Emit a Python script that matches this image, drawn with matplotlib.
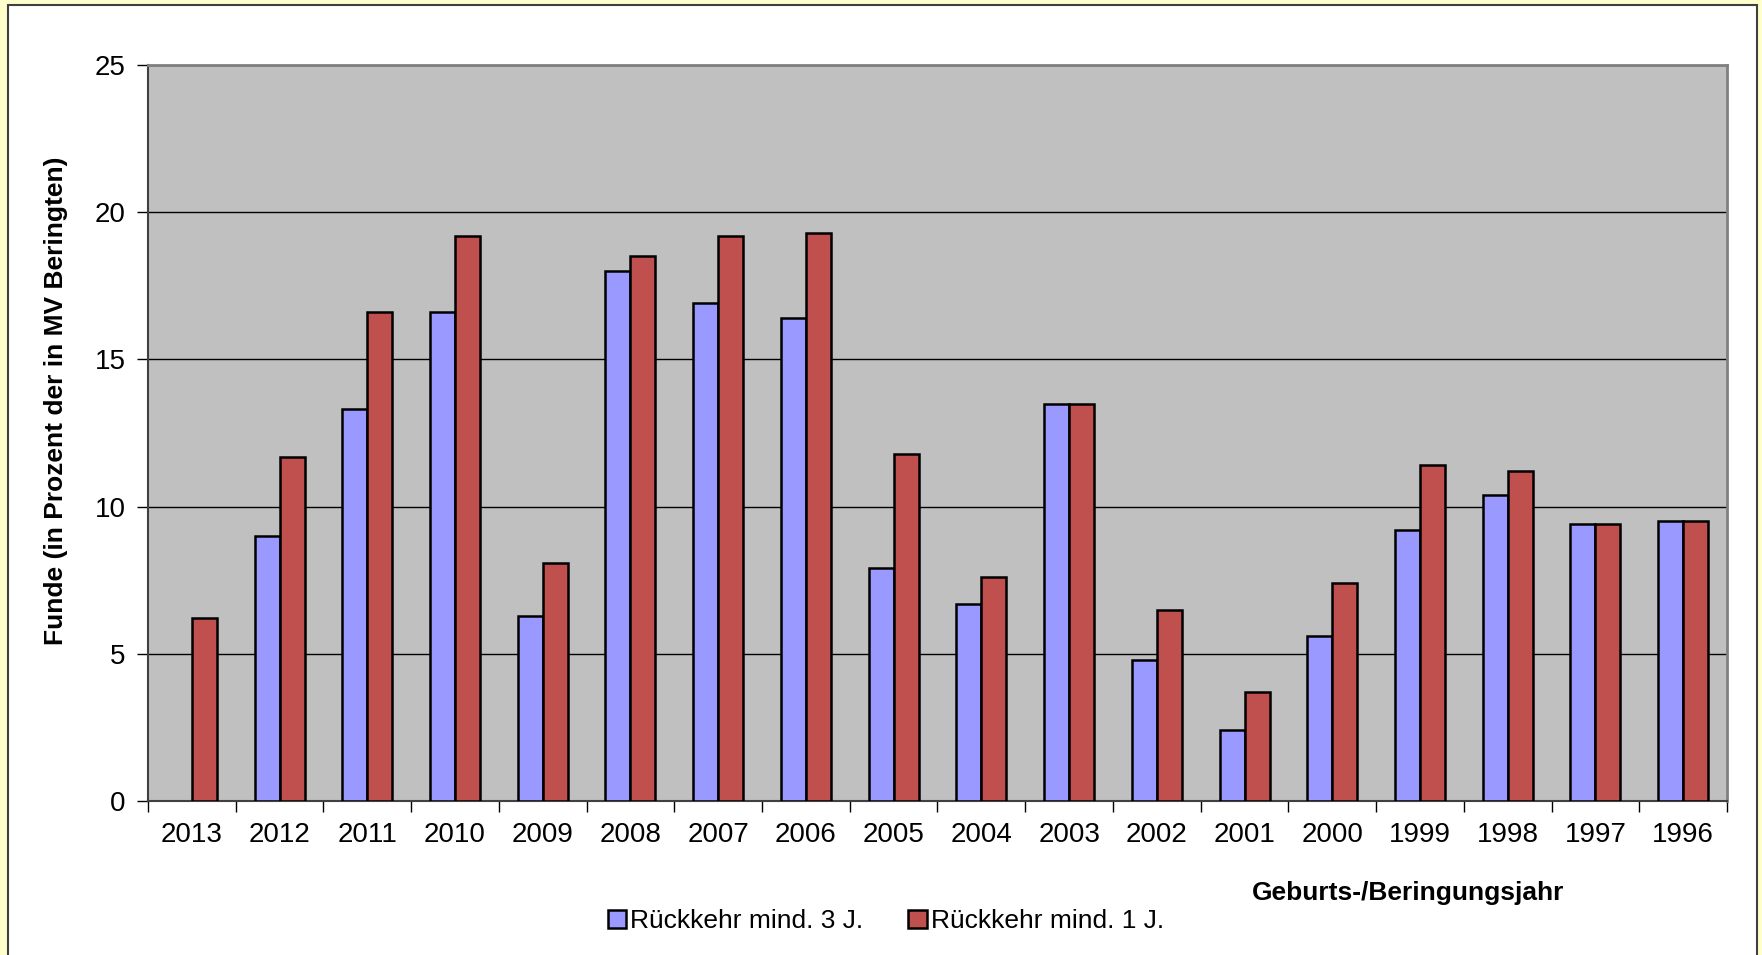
import numpy as np
import matplotlib
matplotlib.use("Agg")
import matplotlib.pyplot as plt
from matplotlib.patches import Rectangle, Patch

plt.rcParams['font.family'] = ['Liberation Sans', 'DejaVu Sans']

# Daten
jahre = ['2013', '2012', '2011', '2010', '2009', '2008', '2007', '2006', '2005',
         '2004', '2003', '2002', '2001', '2000', '1999', '1998', '1997', '1996']
rueckkehr_3j = [np.nan, 9.0, 13.3, 16.6, 6.3, 18.0, 16.9, 16.4, 7.9,
                6.7, 13.5, 4.8, 2.4, 5.6, 9.2, 10.4, 9.4, 9.5]
rueckkehr_1j = [6.2, 11.7, 16.6, 19.2, 8.1, 18.5, 19.2, 19.3, 11.8,
                7.6, 13.5, 6.5, 3.7, 7.4, 11.4, 11.2, 9.4, 9.5]

farbe_blau = '#9999FF'
farbe_rot = '#C0504D'

W, H = 1762, 955
fig = plt.figure(figsize=(W / 100, H / 100), dpi=100)
fig.patch.set_facecolor('#FFFFCC')

# weisser Rahmen
fig.patches.append(Rectangle((8 / W, -0.05), (1757 - 8) / W, 1 - 5 / H + 0.05,
                             transform=fig.transFigure, facecolor='white',
                             edgecolor='#404040', linewidth=1.5, zorder=-10))

ax = fig.add_axes([148 / W, 1 - 801 / H, (1727 - 148) / W, (801 - 65) / H])
ax.set_facecolor('#C0C0C0')

x = np.arange(len(jahre))
bw = 0.285
ax.bar(x - bw / 2, rueckkehr_3j, bw, color=farbe_blau, edgecolor='black',
       linewidth=1.8, zorder=3)
ax.bar(x + bw / 2, rueckkehr_1j, bw, color=farbe_rot, edgecolor='black',
       linewidth=1.8, zorder=3)

ax.set_xlim(-0.5, len(jahre) - 0.5)
ax.set_ylim(0, 25)
ax.set_yticks([0, 5, 10, 15, 20, 25])
ax.yaxis.grid(True, color='black', linewidth=1.0, zorder=1)
ax.set_axisbelow(True)

# x-Ticks zwischen den Kategorien, Labels in der Mitte
ax.set_xticks(np.arange(len(jahre) + 1) - 0.5)
ax.set_xticklabels([])
ax.set_xticks(x, minor=True)
ax.set_xticklabels(jahre, minor=True)
ax.tick_params(axis='x', which='minor', length=0, labelsize=20, pad=15)
ax.tick_params(axis='x', which='major', length=8, width=1, direction='out')
ax.tick_params(axis='y', length=8, width=1, labelsize=20, pad=8)

for s in ['top', 'right']:
    ax.spines[s].set_color('#808080')
    ax.spines[s].set_linewidth(2)
for s in ['left', 'bottom']:
    ax.spines[s].set_color('#404040')
    ax.spines[s].set_linewidth(1.5)

fig.text(56 / W, 1 - 401 / H, 'Funde (in Prozent der in MV Beringten)',
         rotation=90, ha='center', va='center', fontsize=19, fontweight='bold')
fig.text(1408 / W, 1 - 893 / H, 'Geburts-/Beringungsjahr',
         ha='center', va='center', fontsize=19, fontweight='bold')

handles = [Patch(facecolor=farbe_blau, edgecolor='black', linewidth=1.8),
           Patch(facecolor=farbe_rot, edgecolor='black', linewidth=1.8)]
fig.legend(handles, ['Rückkehr mind. 3 J.', 'Rückkehr mind. 1 J.'],
           loc='center', bbox_to_anchor=(886 / W, 1 - 921 / H), ncol=2,
           frameon=False, fontsize=19, handlelength=0.7, handleheight=0.7,
           handletextpad=0.15, columnspacing=1.7)

fig.savefig('out.png', dpi=100, facecolor=fig.get_facecolor())
